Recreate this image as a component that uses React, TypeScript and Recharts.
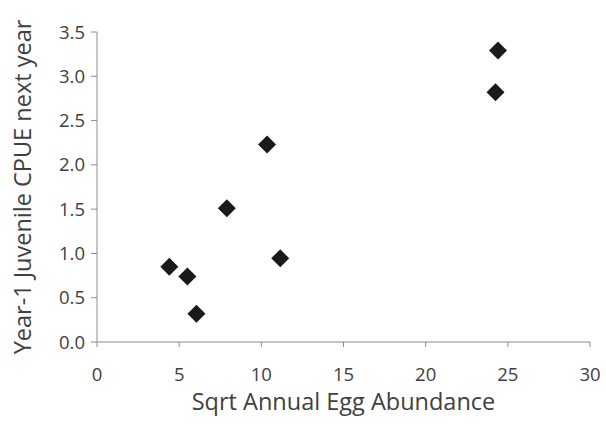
import { ScatterChart, Scatter, XAxis, YAxis } from "recharts";

// Sqrt annual egg abundance vs year-1 juvenile CPUE the following year
const eggSqrt = [4.4, 5.5, 6.05, 7.9, 10.35, 11.15, 24.25, 24.4];
const cpueNext = [0.85, 0.74, 0.32, 1.51, 2.23, 0.945, 2.82, 3.29];
const xTicks = [0, 5, 10, 15, 20, 25, 30];
const yTicks = [0, 0.5, 1, 1.5, 2, 2.5, 3, 3.5];

const points = eggSqrt.map((x, i) => ({ x, y: cpueNext[i] }));

const FONT = "'Open Sans', 'Liberation Sans', sans-serif";
const TEXT = "#404040";
const AXIS = "#8c8c8c";

const Diamond = (props: any) => {
  const { cx, cy } = props;
  const r = 9;
  return (
    <path
      d={`M${cx},${cy - r}L${cx + r},${cy}L${cx},${cy + r}L${cx - r},${cy}Z`}
      fill="#1a1a1a"
    />
  );
};

const XTitle = ({ viewBox }: any) => {
  const cx = viewBox.x + viewBox.width / 2;
  return (
    <text x={cx} y={401} textAnchor="middle" dominantBaseline="central"
      fill={TEXT} fontSize={23.5} fontFamily={FONT}>
      Sqrt Annual Egg Abundance
    </text>
  );
};

const YTitle = ({ viewBox }: any) => {
  const cx = 22;
  const cy = viewBox.y + viewBox.height / 2;
  return (
    <text x={cx} y={cy} transform={`rotate(-90 ${cx} ${cy})`} textAnchor="middle"
      dominantBaseline="central" fill={TEXT} fontSize={23.5} fontFamily={FONT}>
      Year-1 Juvenile CPUE next year
    </text>
  );
};

export default function App() {
  return (
    <div style={{ position: "absolute", left: 0, top: 0, background: "#fff" }}>
      <ScatterChart width={606} height={429}
        margin={{ top: 32, right: 16, bottom: 0, left: 0 }}>
        <XAxis type="number" dataKey="x" domain={[0, 30]} ticks={xTicks}
          interval={0} height={87} stroke={AXIS} tickSize={5} tickMargin={21}
          tick={{ fill: TEXT, fontSize: 18.5, fontFamily: FONT }}
          label={<XTitle />} />
        <YAxis type="number" dataKey="y" domain={[0, 3.5]} ticks={yTicks}
          interval={0} width={97} stroke={AXIS} tickSize={6} tickMargin={6}
          tickFormatter={(v) => Number(v).toFixed(1)}
          tick={{ fill: TEXT, fontSize: 18.5, fontFamily: FONT }}
          label={<YTitle />} />
        <Scatter data={points} shape={<Diamond />} isAnimationActive={false} />
      </ScatterChart>
    </div>
  );
}
